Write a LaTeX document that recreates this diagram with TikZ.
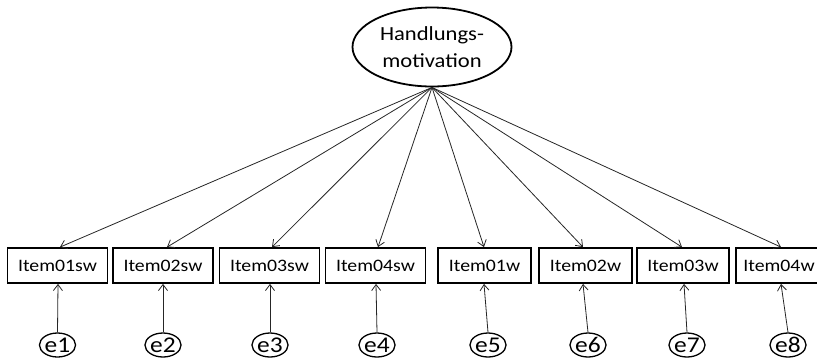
\documentclass[tikz,border=0pt]{standalone}
\usepackage{fontspec}
\setmainfont{Carlito}[FakeStretch=1.13]
\usetikzlibrary{shapes.geometric,arrows.meta}
\begin{document}
\begin{tikzpicture}[x=1pt,y=-1pt,
  item/.style={draw=black,line width=1.8pt,rectangle,minimum height=35pt,inner xsep=10.5pt,inner ysep=0pt,font=\fontsize{17.5}{20}\selectfont,anchor=center},
  lat/.style={draw=black,line width=1.8pt,ellipse,minimum width=159pt,minimum height=79pt,inner sep=0pt,align=center,font=\fontsize{20}{27}\selectfont},
  err/.style={draw=black,line width=1.3pt,ellipse,minimum width=29pt,minimum height=24pt,inner sep=0pt,font=\fontsize{22.5}{22}\selectfont},
  conn/.style={draw=black!85,line width=0.8pt,-{Straight Barb[length=6pt,width=9pt,line width=0.8pt]}}
]
\useasboundingbox (0,0) rectangle (817,360);
\node[lat] (top) at (432,47) {Handlungs-\\motivation};
\node[item] (b1) at (57.5,265.5) {Item01sw};
\node[item] (b2) at (163,265.5) {Item02sw};
\node[item] (b3) at (269.5,265.5) {Item03sw};
\node[item] (b4) at (375.5,265.5) {Item04sw};
\node[item] (b5) at (484.5,265.5) {Item01w};
\node[item] (b6) at (585.5,265.5) {Item02w};
\node[item] (b7) at (683,265.5) {Item03w};
\node[item,inner xsep=7.5pt] (b8) at (779,265.5) {Item04w};
\node[err] (e1) at (57.5,345) {e1};
\node[err] (e2) at (163,345) {e2};
\node[err] (e3) at (270,345) {e3};
\node[err] (e4) at (377,345) {e4};
\node[err] (e5) at (488,345) {e5};
\node[err] (e6) at (588,345) {e6};
\node[err] (e7) at (687,345) {e7};
\node[err] (e8) at (788,345) {e8};
\draw[conn] (top.south) -- ([xshift=2.5pt]b1.north);
\draw[conn] (top.south) -- ([xshift=4pt]b2.north);
\draw[conn] (top.south) -- ([xshift=2.5pt]b3.north);
\draw[conn] (top.south) -- ([xshift=2.5pt]b4.north);
\draw[conn] (top.south) -- ([xshift=-0.5pt]b5.north);
\draw[conn] (top.south) -- ([xshift=-2.5pt]b6.north);
\draw[conn] (top.south) -- ([xshift=-1pt]b7.north);
\draw[conn] (top.south) -- ([xshift=2pt]b8.north);
\draw[conn] (e1.north) -- ([xshift=0.5pt]b1.south);
\draw[conn] (e2.north) -- (b2.south);
\draw[conn] (e3.north) -- ([xshift=0.5pt]b3.south);
\draw[conn] (e4.north) -- ([xshift=0.5pt]b4.south);
\draw[conn] (e5.north) -- ([xshift=-0.5pt]b5.south);
\draw[conn] (e6.north) -- ([xshift=-2.5pt]b6.south);
\draw[conn] (e7.north) -- ([xshift=1pt]b7.south);
\draw[conn] (e8.north) -- ([xshift=2pt]b8.south);
\end{tikzpicture}
\end{document}
